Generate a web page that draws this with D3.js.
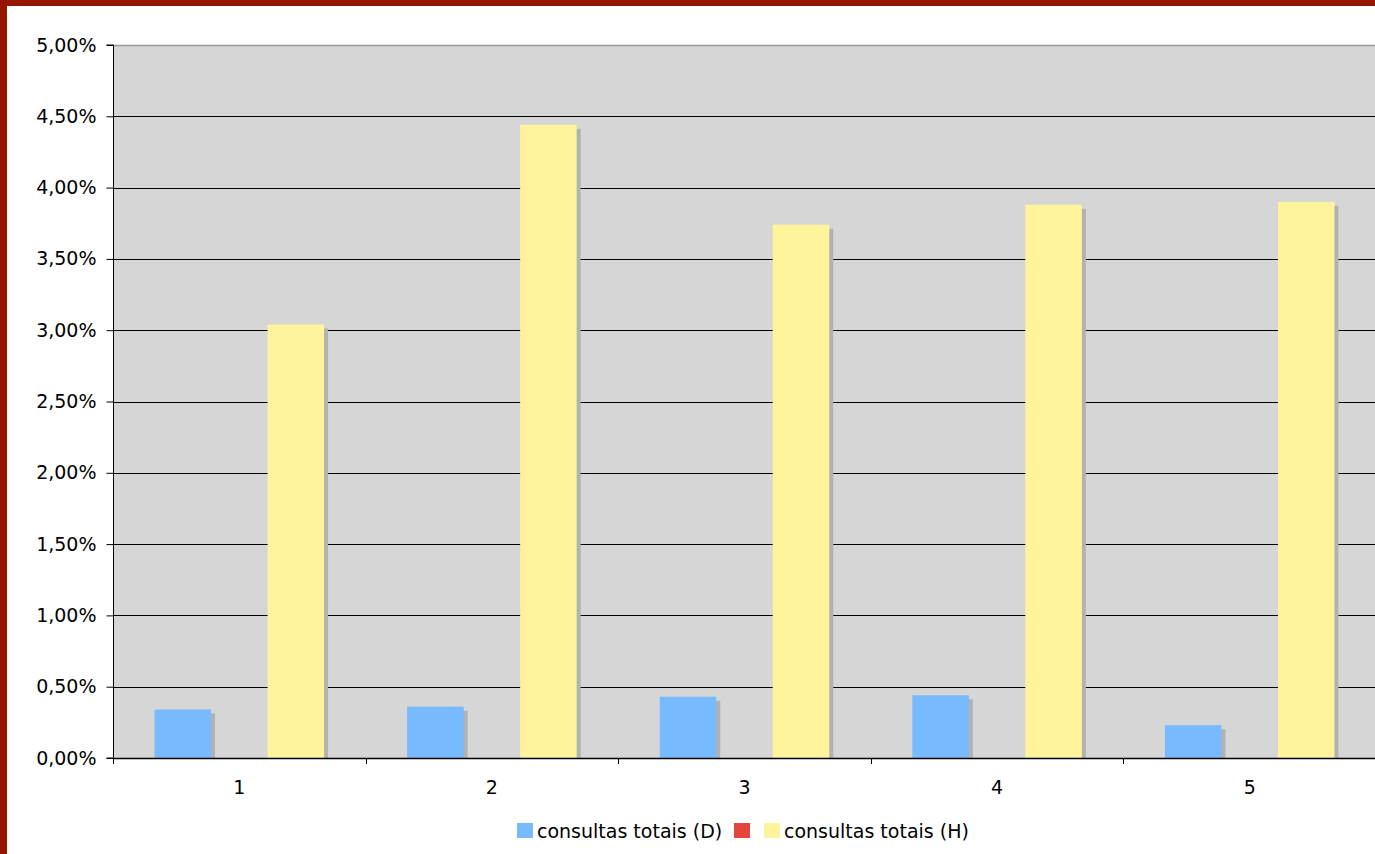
<!DOCTYPE html>
<html>
<head>
<meta charset="utf-8">
<script src="https://cdn.jsdelivr.net/npm/d3@7"></script>
<style>
  html, body { margin: 0; padding: 0; background: #fff; overflow: hidden; }
  svg { display: block; }
  text { font-family: "DejaVu Sans", Verdana, sans-serif; fill: #000; }
</style>
</head>
<body>
<svg id="chart" width="1375" height="854"></svg>
<script>
// Categories and series (percent values)
const categories = ["1", "2", "3", "4", "5"];
const valuesD = [0.34, 0.36, 0.43, 0.44, 0.23];
const valuesRed = [0, 0, 0, 0, 0];
const valuesH = [3.04, 4.44, 3.74, 3.88, 3.90];
const yTicks = [0, 0.5, 1, 1.5, 2, 2.5, 3, 3.5, 4, 4.5, 5];

const series = [
  { key: "D", label: "consultas totais (D)", color: "#77baff", values: valuesD },
  { key: "R", label: "", color: "#e3463d", values: valuesRed },
  { key: "H", label: "consultas totais (H)", color: "#fff39b", values: valuesH }
];

const W = 1375, H = 854;
const FONT = "19px";
const plot = { left: 113, top: 45, right: 1376, bottom: 758 };

const svg = d3.select("#chart");

// Outer frame
svg.append("rect").attr("x", 0).attr("y", 0).attr("width", W).attr("height", H).attr("fill", "#941500");
svg.append("rect").attr("x", 7).attr("y", 6).attr("width", W).attr("height", H).attr("fill", "#fff");

const x = d3.scaleBand().domain(categories).range([plot.left, plot.right]).paddingInner(0).paddingOuter(0);
const inner = d3.scaleBand().domain(series.map(s => s.key)).range([0, x.bandwidth()])
  .paddingInner(0).paddingOuter(0.735);
const y = d3.scaleLinear().domain([0, 5]).range([plot.bottom, plot.top]);

// Plot background
svg.append("rect")
  .attr("x", plot.left).attr("y", plot.top)
  .attr("width", plot.right - plot.left).attr("height", plot.bottom - plot.top)
  .attr("fill", "#d6d6d6");

// Gridlines
svg.append("g").selectAll("line")
  .data(yTicks.filter(t => t > 0 && t < 5))
  .join("line")
  .attr("x1", plot.left).attr("x2", plot.right)
  .attr("y1", d => Math.round(y(d)) + 0.5).attr("y2", d => Math.round(y(d)) + 0.5)
  .attr("stroke", "#000").attr("stroke-width", 1);

// Top border of the plot area
svg.append("line")
  .attr("x1", plot.left).attr("x2", plot.right)
  .attr("y1", plot.top + 0.5).attr("y2", plot.top + 0.5)
  .attr("stroke", "#999").attr("stroke-width", 1.5);

// Bars with drop shadows
const bw = inner.bandwidth();
const groups = svg.append("g").selectAll("g")
  .data(categories)
  .join("g")
  .attr("transform", d => `translate(${x(d)},0)`);

series.forEach(s => {
  groups.each(function(c, i) {
    const v = s.values[i];
    if (v <= 0) return;
    const g = d3.select(this);
    const x0 = inner(s.key);
    g.append("rect")
      .attr("x", x0 + 4).attr("y", y(v) + 4)
      .attr("width", bw).attr("height", plot.bottom - y(v) - 4)
      .attr("fill", "#b2b2b2");
    g.append("rect")
      .attr("x", x0).attr("y", y(v))
      .attr("width", bw).attr("height", plot.bottom - y(v))
      .attr("fill", s.color);
  });
});

// Y axis
const yAxis = d3.axisLeft(y)
  .tickValues(yTicks)
  .tickSize(7)
  .tickPadding(10)
  .tickFormat(d => d3.format(".2f")(d).replace(".", ",") + "%");
const yg = svg.append("g").attr("transform", `translate(${plot.left + 0.5},0)`).call(yAxis);
yg.attr("font-family", null).attr("font-size", null);
yg.select(".domain").attr("stroke", "#000").attr("d", `M-7,${plot.top}H0V${plot.bottom}H-7`);
yg.selectAll(".tick line").attr("stroke", "#000");
yg.selectAll("text").style("font-size", FONT).attr("fill", "#000");

// X axis
svg.append("line")
  .attr("x1", plot.left).attr("x2", plot.right)
  .attr("y1", plot.bottom + 0.5).attr("y2", plot.bottom + 0.5)
  .attr("stroke", "#000").attr("stroke-width", 1.5);
const xBounds = categories.map(c => x(c)).concat([plot.right]);
svg.append("g").selectAll("line")
  .data(xBounds)
  .join("line")
  .attr("x1", d => Math.round(d) + 0.5).attr("x2", d => Math.round(d) + 0.5)
  .attr("y1", plot.bottom).attr("y2", plot.bottom + 6)
  .attr("stroke", "#000");
svg.append("g").selectAll("text")
  .data(categories)
  .join("text")
  .attr("x", d => x(d) + x.bandwidth() / 2)
  .attr("y", 794)
  .attr("text-anchor", "middle")
  .style("font-size", FONT)
  .text(d => d);

// Legend
const legend = svg.append("g");
const legendItems = [
  { color: series[0].color, label: series[0].label, x: 517 },
  { color: series[1].color, label: "", x: 734 },
  { color: series[2].color, label: series[2].label, x: 764 }
];
legendItems.forEach(it => {
  legend.append("rect").attr("x", it.x).attr("y", 823).attr("width", 16).attr("height", 15).attr("fill", it.color);
  if (it.label) {
    legend.append("text").attr("x", it.x + 20).attr("y", 838)
      .style("font-size", FONT).text(it.label);
  }
});
</script>
</body>
</html>
